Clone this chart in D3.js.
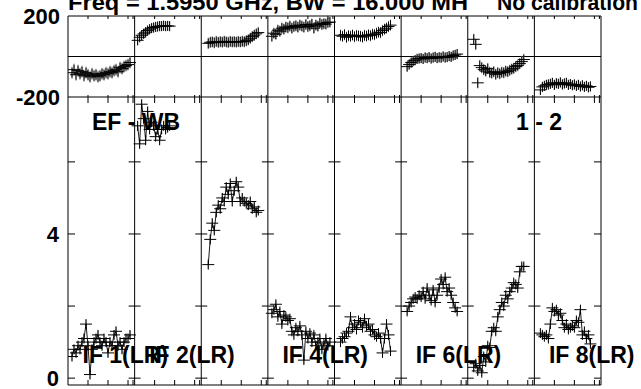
<!DOCTYPE html>
<html lang="en">
<head>
    <meta charset="UTF-8">
    <title>EF - WB amplitude / phase per IF</title>
    <script src="https://d3js.org/d3.v7.min.js"></script>
    <style>
        body { margin: 0; background: #fff; }
        svg { display: block; }
        text { font-family: "Liberation Sans", Arial, sans-serif; font-weight: bold; fill: #000; }
    </style>
</head>
<body>
    <div id="chart"></div>

    <script>
        // --- data ---
        const ifNames = ["IF 1", "IF 2", "IF 3", "IF 4", "IF 5", "IF 6", "IF 7", "IF 8"];
        const labelledIFs = ["IF 1", "IF 2", "IF 4", "IF 6", "IF 8"];
        const firstChan = [4, 3, 7, 4, 6, 6, 6, 6];   // first plotted channel in each IF
        const chanStep = 2;
        const chanTicks = [20, 40, 60, 65];
        const ampTicks = [0, 2, 4, 6];
        const ampLabels = [0, 4];
        const phaseLabels = [200, -200];

        const amp1 = [0.6, 0.8, 0.7, 0.9, 0.8, 1.0, 1.1, 1.5, 0.9, 0.1, 0.8, 1.0, 1.1, 1.2, 1.0, 0.9, 1.1, 1.0, 0.7, 1.0, 0.9, 1.2, 1.3, 0.9, 1.0, 0.8, 1.0, 1.1, 1.1, 1.2];
        const amp2 = [7.0, 6.5, 7.6, 7.2, 6.6, 7.4, 6.9, 7.1, 7.0, 6.7, 6.9, 6.6, 6.9, 7.0, 6.9, 6.95, 7.0];
        const amp3 = [3.15, 3.85, 4.3, 4.1, 4.6, 4.8, 4.7, 5.0, 4.9, 5.3, 5.1, 5.4, 4.9, 5.2, 5.45, 5.3, 4.9, 5.0, 4.9, 4.85, 4.8, 4.9, 4.7, 4.75, 4.6, 4.65];
        const amp4 = [1.8, 1.9, 2.05, 1.7, 1.85, 1.5, 1.75, 1.7, 1.6, 1.65, 1.3, 1.2, 1.4, 1.3, 1.45, 1.2, 0.5, 1.3, 1.1, 1.25, 1.0, 1.2, 0.9, 1.0, 1.1, 0.8, 0.95, 1.1, 0.9, 1.0];
        const amp5 = [1.0, 1.1, 1.15, 1.25, 1.3, 1.7, 1.4, 1.5, 1.35, 1.6, 1.55, 1.4, 1.65, 1.45, 1.5, 1.3, 1.35, 1.2, 1.15, 1.25, 1.1, 0.7, 1.1, 1.5, 1.2, 0.75];
        const amp6 = [1.85, 2.0, 2.1, 2.2, 2.25, 2.2, 2.3, 2.25, 2.4, 2.2, 2.5, 2.3, 2.15, 2.45, 2.1, 2.3, 2.5, 2.75, 2.6, 2.8, 2.4, 2.5, 2.3, 2.1, 1.95, 1.85];
        const amp7 = [0.3, 0.4, 0.2, 0.35, 0.15, 0.6, 0.45, 0.9, 0.85, 1.3, 1.4, 1.3, 1.7, 1.9, 2.1, 2.0, 2.3, 2.2, 2.4, 2.5, 2.65, 2.6, 2.5, 2.95, 3.1, 3.1];
        const amp8 = [1.25, 1.2, 1.15, 1.2, 1.1, 1.5, 1.95, 1.85, 1.9, 1.75, 1.8, 1.6, 1.4, 1.5, 1.35, 1.4, 1.45, 1.4, 1.6, 1.55, 1.9, 1.2, 1.3, 1.1, 1.2, 0.95];

        const phase1 = [-80, -65, -90, -70, -85, -75, -95, -80, -90, -100, -85, -95, -90, -100, -95, -85, -90, -80, -85, -75, -80, -70, -65, -75, -55, -60, -50, -45, -40, -30];
        const phase2 = [80, 95, 105, 112, 120, 128, 135, 140, 143, 146, 148, 150, 150, 152, 150, 151, 150];
        const phase3 = [65, 70, 72, 68, 74, 70, 73, 71, 75, 72, 70, 74, 72, 73, 71, 74, 72, 75, 73, 78, 82, 90, 98, 105, 112, 118];
        const phase4 = [100, 115, 110, 130, 125, 140, 135, 145, 142, 150, 140, 148, 152, 145, 155, 150, 145, 158, 148, 152, 160, 140, 155, 150, 165, 158, 162, 160, 168, 170];
        const phase5 = [105, 100, 108, 95, 103, 100, 106, 98, 104, 102, 100, 96, 104, 101, 107, 103, 110, 108, 115, 120, 118, 128, 135, 140, 148, 155];
        const phase6 = [-50, -40, -30, -22, -18, -12, -10, -8, -12, -5, -8, -3, -10, -5, -2, -8, -4, -6, 0, -5, -3, 2, -2, 5, 8, 12];
        const phase7 = [85, 60, -130, -45, -55, -65, -72, -60, -78, -82, -75, -88, -80, -85, -78, -80, -72, -75, -68, -62, -58, -50, -45, -35, -25, -15];
        const phase8 = [-165, -150, -145, -140, -138, -135, -130, -140, -132, -135, -128, -138, -133, -130, -140, -136, -142, -138, -145, -140, -148, -142, -150, -145, -152, -148];

        const ampErr = [0.12, 0.12, 0.12, 0.1, 0.1, 0.1, 0.1, 0.1];
        const phaseErr = [30, 25, 28, 28, 28, 25, 28, 25];

        const ampSeries = [amp1, amp2, amp3, amp4, amp5, amp6, amp7, amp8];
        const phaseSeries = [phase1, phase2, phase3, phase4, phase5, phase6, phase7, phase8];

        // --- layout ---
        const width = 641, height = 389;
        const left = 68, right = 601;
        const phTop = 16, phBot = 97, ampBot = 385;

        const svg = d3.select("#chart").append("svg")
            .attr("width", width)
            .attr("height", height);

        const col = d3.scaleBand().domain(ifNames).range([left, right]).padding(0);
        const chan = d3.scaleLinear().domain([0, 66.6]).range([0, col.bandwidth()]);
        const yPh = d3.scaleLinear().domain([-200, 200]).range([phBot, phTop]);
        const yAmp = d3.scaleLinear().domain([-0.19, 7.8]).range([ampBot, phBot]);

        svg.append("clipPath").attr("id", "clipPh")
            .append("rect").attr("x", left).attr("y", phTop).attr("width", right - left).attr("height", phBot - phTop);
        svg.append("clipPath").attr("id", "clipAmp")
            .append("rect").attr("x", left).attr("y", phBot).attr("width", right - left).attr("height", ampBot - phBot);

        const points = ifNames.map((name, k) => ampSeries[k].map((a, i) => ({
            x: col(name) + chan(firstChan[k] + i * chanStep),
            amp: a,
            ph: phaseSeries[k][i],
            aErr: ampErr[k],
            pErr: phaseErr[k]
        })));

        // frame + grid
        const frame = svg.append("g").attr("stroke", "#000").attr("stroke-width", 1).attr("fill", "none");
        [yPh(200), yPh(0), yPh(-200), ampBot].forEach(y => {
            frame.append("line").attr("x1", left).attr("x2", right).attr("y1", y).attr("y2", y);
        });
        const bounds = ifNames.map(n => col(n)).concat([right]);
        bounds.forEach(x => {
            frame.append("line").attr("x1", x).attr("x2", x).attr("y1", phTop).attr("y2", ampBot);
        });

        // amplitude ticks on every column boundary
        bounds.forEach((x, j) => {
            const l = j === 0 ? 0 : -6;
            const r = j === bounds.length - 1 ? 0 : 6;
            ampTicks.forEach(v => {
                frame.append("line")
                    .attr("x1", x + (j === bounds.length - 1 ? -7 : l))
                    .attr("x2", x + (j === 0 ? 7 : r))
                    .attr("y1", yAmp(v)).attr("y2", yAmp(v));
            });
        });

        // channel ticks
        ifNames.forEach(name => {
            chanTicks.forEach(c => {
                const x = col(name) + chan(c);
                frame.append("line").attr("x1", x).attr("x2", x).attr("y1", phTop).attr("y2", phTop + 3);
                frame.append("line").attr("x1", x).attr("x2", x).attr("y1", phBot - 2).attr("y2", phBot + 6);
                frame.append("line").attr("x1", x).attr("x2", x).attr("y1", ampBot - 5).attr("y2", ampBot);
            });
        });

        // axis labels
        phaseLabels.forEach(v => {
            svg.append("text").attr("x", 60).attr("y", yPh(v) + 8)
                .attr("text-anchor", "end").attr("font-size", 22).text(v);
        });
        ampLabels.forEach(v => {
            svg.append("text").attr("x", 59).attr("y", yAmp(v) + 8)
                .attr("text-anchor", "end").attr("font-size", 22).text(v);
        });

        // phase panel
        const gPh = svg.append("g").attr("clip-path", "url(#clipPh)");
        points.forEach(pts => {
            gPh.selectAll(null).data(pts).join("line")
                .attr("x1", d => d.x).attr("x2", d => d.x)
                .attr("y1", d => yPh(d.ph - d.pErr)).attr("y2", d => yPh(d.ph + d.pErr))
                .attr("stroke", "#8a8a8a");
            gPh.selectAll(null).data(pts).join("path")
                .attr("d", d => `M${d.x - 6},${yPh(d.ph)}h12M${d.x},${yPh(d.ph) - 5}v10`)
                .attr("stroke", "#000").attr("fill", "none");
        });

        // amplitude panel
        const gAmp = svg.append("g").attr("clip-path", "url(#clipAmp)");
        const line = d3.line().x(d => d.x).y(d => yAmp(d.amp));
        points.forEach(pts => {
            gAmp.selectAll(null).data(pts).join("line")
                .attr("x1", d => d.x).attr("x2", d => d.x)
                .attr("y1", d => yAmp(d.amp - d.aErr)).attr("y2", d => yAmp(d.amp + d.aErr))
                .attr("stroke", "#8a8a8a");
            gAmp.append("path").datum(pts).attr("d", line)
                .attr("stroke", "#000").attr("stroke-width", 0.9).attr("fill", "none");
            gAmp.selectAll(null).data(pts).join("path")
                .attr("d", d => `M${d.x - 6},${yAmp(d.amp)}h12M${d.x},${yAmp(d.amp) - 5}v10`)
                .attr("stroke", "#000").attr("fill", "none");
        });

        // labels
        svg.append("text").attr("x", 68).attr("y", 10).attr("font-size", 22.5)
            .attr("textLength", 400).attr("lengthAdjust", "spacingAndGlyphs")
            .text("Freq = 1.5950 GHz, BW = 16.000 MH");
        svg.append("text").attr("x", 497).attr("y", 10).attr("font-size", 22.5)
            .attr("textLength", 141).attr("lengthAdjust", "spacingAndGlyphs")
            .text("No calibration");

        svg.append("text").attr("x", 92).attr("y", 130).attr("font-size", 23).text("EF - WB");
        svg.append("text").attr("x", 516).attr("y", 130).attr("font-size", 23).text("1 - 2");

        labelledIFs.forEach(name => {
            svg.append("text")
                .attr("x", col(name) + 14.5)
                .attr("y", 363)
                .attr("font-size", 23)
                .text(name + "(LR)");
        });
    </script>
</body>
</html>
